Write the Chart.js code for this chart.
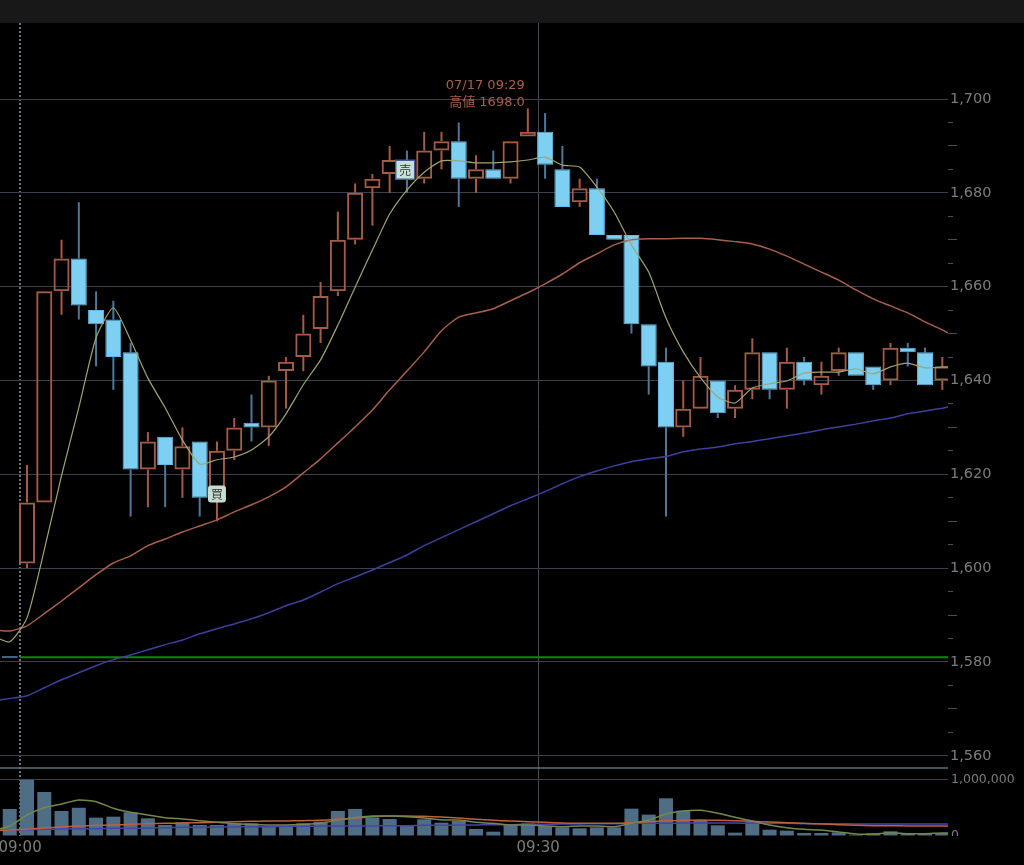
<!DOCTYPE html>
<html>
<head>
<meta charset="utf-8">
<title>07/17 1分足</title>
<script src="https://cdn.jsdelivr.net/npm/chart.js"></script>
<style>
    html, body { margin: 0; padding: 0; background: #000; overflow: hidden; }
    #topBar { height: 23px; background: #181818; }
    #chartBox { position: relative; width: 1024px; height: 842px; }
</style>
</head>
<body>
<div id="topBar"></div>
<div id="chartBox"><canvas id="priceChart"></canvas></div>
<script>
// minutes after 09:00, -1 is the pre-open print
const candleMinutes = [-1, 0, 1, 2, 3, 4, 5, 6, 7, 8, 9, 10, 11, 12, 13, 14, 15, 16, 17, 18, 19, 20, 21, 22, 23, 24, 25, 26, 27, 28, 29, 30, 31, 32, 33, 34, 35, 36, 37, 38, 39, 40, 41, 42, 43, 44, 45, 46, 47, 48, 49, 50, 51, 52, 53];
const opens = [1581.2, 1601, 1614, 1659, 1666, 1655, 1653, 1646, 1621, 1628, 1621, 1627, 1615, 1625, 1631, 1630, 1642, 1645, 1651, 1659, 1670, 1681, 1684, 1687, 1683, 1689, 1691, 1683, 1685, 1683, 1692, 1693, 1685, 1678, 1681, 1671, 1671, 1652, 1644, 1630, 1634, 1640, 1634, 1638, 1646, 1638, 1644, 1639, 1642, 1646, 1643, 1640, 1647, 1646, 1640];
const closes = [1580.9, 1614, 1659, 1666, 1656, 1652, 1645, 1621, 1627, 1622, 1626, 1615, 1625, 1630, 1630, 1640, 1644, 1650, 1658, 1670, 1680, 1683, 1687, 1683, 1689, 1691, 1683, 1685, 1683, 1691, 1693, 1686, 1677, 1681, 1671, 1670, 1652, 1643, 1630, 1634, 1641, 1633, 1638, 1646, 1638, 1644, 1640, 1641, 1646, 1641, 1639, 1647, 1646, 1639, 1643];
const highs = [1581.2, 1622, 1659, 1670, 1678, 1659, 1657, 1648, 1629, 1628, 1630, 1627, 1627, 1632, 1637, 1641, 1645, 1654, 1661, 1676, 1682, 1684, 1690, 1689, 1693, 1693, 1695, 1688, 1689, 1691, 1698, 1697, 1690, 1683, 1683, 1671, 1671, 1652, 1647, 1640, 1645, 1640, 1639, 1649, 1646, 1647, 1645, 1644, 1647, 1646, 1643, 1648, 1648, 1647, 1645];
const lows = [1580.9, 1600, 1614, 1654, 1653, 1643, 1638, 1611, 1613, 1613, 1615, 1611, 1610, 1623, 1627, 1626, 1634, 1642, 1648, 1658, 1669, 1673, 1680, 1680, 1682, 1685, 1677, 1680, 1683, 1682, 1692, 1683, 1677, 1677, 1671, 1670, 1650, 1637, 1611, 1628, 1634, 1632, 1632, 1636, 1636, 1634, 1639, 1637, 1641, 1641, 1638, 1639, 1643, 1639, 1638];
const volumes = [478000, 997000, 779000, 442000, 500000, 325000, 342000, 419000, 313000, 195000, 242000, 195000, 195000, 224000, 224000, 177000, 177000, 224000, 254000, 442000, 478000, 325000, 300000, 183000, 295000, 236000, 265000, 124000, 77000, 195000, 224000, 177000, 153000, 136000, 153000, 153000, 484000, 378000, 667000, 448000, 283000, 189000, 59000, 248000, 112000, 94000, 53000, 53000, 65000, 24000, 47000, 83000, 35000, 41000, 53000];

// moving averages run a little past both edges of the plot
const lineMinutes = [-2, -1, 0, 1, 2, 3, 4, 5, 6, 7, 8, 9, 10, 11, 12, 13, 14, 15, 16, 17, 18, 19, 20, 21, 22, 23, 24, 25, 26, 27, 28, 29, 30, 31, 32, 33, 34, 35, 36, 37, 38, 39, 40, 41, 42, 43, 44, 45, 46, 47, 48, 49, 50, 51, 52, 53, 54];
const ma5 = [1585.6, 1584.3, 1589.4, 1603.9, 1619.7, 1634.2, 1649.1, 1655.5, 1648.6, 1640.5, 1634.2, 1627.3, 1622.2, 1623.1, 1623.7, 1625.2, 1628, 1632.9, 1639.1, 1644.4, 1651.8, 1659.9, 1667.8, 1675.5, 1680.6, 1684.4, 1686.8, 1686.8, 1686.4, 1686.4, 1686.6, 1687, 1687.6, 1685.9, 1685.5, 1681.2, 1675.9, 1668.9, 1663.1, 1653.3, 1646.1, 1640.6, 1636.5, 1635.2, 1638.4, 1639.3, 1639.9, 1641.6, 1641.8, 1641.8, 1642.5, 1641.4, 1642.9, 1643.7, 1642.7, 1642.9, 1642.9];
const ma25 = [1586.9, 1586.6, 1587.7, 1590.3, 1593.0, 1595.8, 1598.6, 1601.1, 1602.6, 1604.8, 1606.2, 1607.7, 1609.0, 1610.3, 1612.0, 1613.5, 1615.2, 1617.3, 1620.3, 1623.3, 1626.7, 1630.1, 1633.7, 1638, 1642, 1646.1, 1650.6, 1653.5, 1654.4, 1655.3, 1657.0, 1658.7, 1660.6, 1662.7, 1665.1, 1667.0, 1668.9, 1670.0, 1670.2, 1670.2, 1670.3, 1670.3, 1670.0, 1669.6, 1669.1, 1668.0, 1666.5, 1664.8, 1663.1, 1661.4, 1659.3, 1657.4, 1655.9, 1654.4, 1652.5, 1650.8, 1648.9];
const ma75 = [1571.7, 1572.2, 1572.8, 1574.5, 1576.2, 1577.7, 1579.2, 1580.5, 1581.5, 1582.6, 1583.7, 1584.7, 1586.0, 1587.1, 1588.1, 1589.2, 1590.5, 1592.0, 1593.2, 1594.9, 1596.7, 1598.1, 1599.6, 1601.2, 1602.8, 1604.8, 1606.5, 1608.2, 1609.9, 1611.6, 1613.3, 1614.8, 1616.3, 1618.0, 1619.5, 1620.7, 1621.8, 1622.7, 1623.3, 1623.8, 1624.8, 1625.4, 1625.8, 1626.5, 1627.0, 1627.6, 1628.2, 1628.8, 1629.5, 1630.1, 1630.7, 1631.4, 1632.0, 1632.9, 1633.5, 1634.1, 1634.8];
const volMa5 = [94000, 177000, 372000, 501000, 566000, 637000, 608000, 490000, 419000, 372000, 324000, 301000, 271000, 242000, 218000, 206000, 195000, 195000, 206000, 224000, 283000, 324000, 354000, 354000, 342000, 319000, 283000, 283000, 242000, 224000, 195000, 195000, 177000, 165000, 177000, 177000, 165000, 224000, 283000, 389000, 442000, 454000, 401000, 330000, 265000, 195000, 147000, 118000, 106000, 71000, 35000, 35000, 59000, 41000, 41000, 53000, 53000];
const volMa25 = [94000, 106000, 118000, 142000, 159000, 177000, 189000, 195000, 206000, 218000, 224000, 230000, 236000, 242000, 254000, 260000, 265000, 265000, 271000, 277000, 295000, 319000, 342000, 354000, 354000, 348000, 336000, 319000, 295000, 277000, 265000, 254000, 242000, 230000, 224000, 224000, 224000, 236000, 254000, 271000, 277000, 283000, 277000, 271000, 260000, 248000, 236000, 224000, 212000, 201000, 189000, 183000, 183000, 177000, 177000, 177000, 177000];
const volMa75 = [100000, 106000, 112000, 118000, 124000, 130000, 130000, 136000, 136000, 142000, 147000, 153000, 153000, 159000, 159000, 165000, 165000, 171000, 171000, 177000, 177000, 177000, 177000, 183000, 183000, 189000, 189000, 195000, 195000, 201000, 201000, 206000, 206000, 212000, 212000, 218000, 218000, 224000, 224000, 224000, 230000, 230000, 230000, 230000, 224000, 224000, 224000, 218000, 218000, 218000, 212000, 212000, 212000, 212000, 212000, 212000, 212000];

const prevClose = 1581;
const prevCloseMinutes = [-0.4, 54];
const timeTicks = [-0.4, 29.6];
const timeLabels = ['09:00', '09:30'];
const volumeTicks = [0, 1000000];
const signalMinutes = [11, 21.9];
const signalPrices = [1615.8, 1684.9];
const signalTexts = ['買', '売'];
const peakMinute = 29;
const peakPrice = 1698;
const peakLines = ['07/17 09:29', '高値 1698.0'];

const GRID = '#3a404e';
const UP = '#a55c47';
const DOWN_FILL = '#7dd0f2';
const DOWN_EDGE = '#6cb6e2';
const DOWN_WICK = '#4f7898';
const LABEL = '#7c7c7c';

function isUp(i) {
    return closes[i] >= opens[i];
}

function bodyPoints(up) {
    const points = [];
    candleMinutes.forEach(function(minute, i) {
        if (isUp(i) === up) {
            points.push({ x: minute, y: [opens[i], closes[i]] });
        }
    });
    return points;
}

// wicks stop at the body so the hollow candles stay hollow
function wickPoints(up) {
    const points = [];
    candleMinutes.forEach(function(minute, i) {
        if (isUp(i) === up) {
            points.push({ x: minute, y: [Math.max(opens[i], closes[i]), highs[i]] });
            points.push({ x: minute, y: [lows[i], Math.min(opens[i], closes[i])] });
        }
    });
    return points;
}

function linePoints(minutes, values) {
    return minutes.map(function(minute, i) {
        return { x: minute, y: values[i] };
    });
}

function lineDataset(values, color, width, axis, order) {
    return {
        type: 'line',
        data: linePoints(lineMinutes, values),
        yAxisID: axis,
        borderColor: color,
        borderWidth: width,
        pointRadius: 0,
        tension: 0.2,
        order: order
    };
}

function wickDataset(up, color) {
    return {
        type: 'bar',
        data: wickPoints(up),
        yAxisID: 'y',
        backgroundColor: color,
        barThickness: 2,
        grouped: false,
        inflateAmount: 0,
        order: 6
    };
}

function bodyDataset(up, fill, edge) {
    return {
        type: 'bar',
        data: bodyPoints(up),
        yAxisID: 'y',
        backgroundColor: fill,
        borderColor: edge,
        borderWidth: up ? 2 : 1,
        borderSkipped: false,
        barThickness: 16,
        grouped: false,
        inflateAmount: 0,
        order: 5
    };
}

// no room for half labels around the plot, it has to touch the canvas edges
function fixSize(axis, size) {
    if (axis.isHorizontal()) {
        axis.height = size;
    } else {
        axis.width = size;
    }
    axis.paddingLeft = 0;
    axis.paddingRight = 0;
    axis.paddingTop = 0;
    axis.paddingBottom = 0;
}

// signal badges, the high label, the pane divider and the cut-off "0"
const overlayPlugin = {
    id: 'overlay',
    afterDraw: function(chart) {
        const ctx = chart.ctx;
        const xScale = chart.scales.x;
        const yScale = chart.scales.y;
        const volScale = chart.scales.yVol;
        ctx.save();

        ctx.strokeStyle = '#5a7078';
        ctx.lineWidth = 1.5;
        ctx.beginPath();
        ctx.moveTo(chart.chartArea.left, volScale.top);
        ctx.lineTo(chart.chartArea.right, volScale.top);
        ctx.stroke();

        ctx.fillStyle = '#000';
        ctx.fillRect(chart.chartArea.right, chart.chartArea.bottom, 76, 30);

        signalTexts.forEach(function(text, i) {
            const x = xScale.getPixelForValue(signalMinutes[i]);
            const y = yScale.getPixelForValue(signalPrices[i]);
            ctx.beginPath();
            if (text === '売') {
                ctx.rect(x - 9.5, y - 9.5, 19, 19);
                ctx.fillStyle = '#c6e2d6';
                ctx.fill();
                ctx.strokeStyle = '#4a5a9a';
                ctx.lineWidth = 1.5;
                ctx.stroke();
            } else {
                ctx.roundRect(x - 9, y - 8.5, 18, 17, 3);
                ctx.fillStyle = '#c6dcd0';
                ctx.fill();
            }
            ctx.fillStyle = '#333';
            ctx.font = '12px "Noto Sans CJK JP"';
            ctx.textAlign = 'center';
            ctx.textBaseline = 'middle';
            ctx.fillText(text, x, y + 0.5);
        });

        const peakX = xScale.getPixelForValue(peakMinute);
        const peakY = yScale.getPixelForValue(peakPrice);
        ctx.fillStyle = '#a8604a';
        ctx.font = '13px "DejaVu Sans", "Noto Sans CJK JP"';
        ctx.textAlign = 'right';
        ctx.textBaseline = 'middle';
        ctx.fillText(peakLines[0], peakX - 3, peakY - 23);
        ctx.fillText(peakLines[1], peakX - 3, peakY - 6);
        ctx.restore();
    }
};

new Chart(document.getElementById('priceChart'), {
    type: 'bar',
    data: {
        datasets: [
            lineDataset(ma75, '#3f3f9c', 1.5, 'y', 3),
            lineDataset(ma25, '#a8604a', 1.5, 'y', 2),
            lineDataset(ma5, '#a0a470', 1.2, 'y', 1),
            {
                type: 'line',
                data: linePoints(prevCloseMinutes, [prevClose, prevClose]),
                yAxisID: 'y',
                borderColor: '#008c00',
                borderWidth: 2,
                pointRadius: 0,
                order: 4
            },
            wickDataset(true, UP),
            wickDataset(false, DOWN_WICK),
            bodyDataset(true, 'rgba(0,0,0,0)', UP),
            bodyDataset(false, DOWN_FILL, DOWN_EDGE),
            {
                type: 'bar',
                data: linePoints(candleMinutes, volumes),
                yAxisID: 'yVol',
                backgroundColor: '#4f6d85',
                barThickness: 14,
                grouped: false,
                inflateAmount: 0,
                order: 5
            },
            lineDataset(volMa75, '#4444aa', 1.5, 'yVol', 3),
            lineDataset(volMa25, '#c0603c', 1.5, 'yVol', 2),
            lineDataset(volMa5, '#74884e', 1.5, 'yVol', 1)
        ]
    },
    options: {
        responsive: true,
        maintainAspectRatio: false,
        animation: false,
        layout: { padding: 0 },
        plugins: {
            legend: { display: false },
            tooltip: { enabled: false }
        },
        scales: {
            x: {
                type: 'linear',
                offset: false,
                min: -1.563,
                max: 53.33,
                afterBuildTicks: function(axis) {
                    axis.ticks = timeTicks.map(function(value) {
                        return { value: value };
                    });
                },
                afterFit: function(axis) {
                    fixSize(axis, 29);
                },
                grid: {
                    offset: false,
                    drawTicks: false,
                    color: function(context) {
                        return context.index === 0 ? '#6b7580' : '#444a58';
                    },
                    lineWidth: function(context) {
                        return context.index === 0 ? 2 : 1;
                    }
                },
                border: {
                    display: false,
                    dash: function(context) {
                        return context.index === 0 ? [2, 2] : [];
                    }
                },
                ticks: {
                    autoSkip: false,
                    maxRotation: 0,
                    padding: 3,
                    color: LABEL,
                    font: { family: '"DejaVu Sans"', size: 15 },
                    callback: function(value, index) {
                        return timeLabels[index];
                    }
                }
            },
            y: {
                position: 'right',
                stack: 'panes',
                stackWeight: 745,
                min: 1557.4,
                max: 1716.2,
                afterFit: function(axis) {
                    fixSize(axis, 76);
                },
                grid: {
                    tickLength: 9,
                    color: function(context) {
                        return context.tick.value % 20 === 0 ? GRID : 'rgba(0,0,0,0)';
                    },
                    tickColor: function(context) {
                        const value = context.tick.value;
                        return value % 20 === 0 || value > 1700 ? 'rgba(0,0,0,0)' : '#4a4f5c';
                    },
                    tickBorderDash: function(context) {
                        return context.tick.value % 10 === 0 ? [] : [5, 10];
                    }
                },
                border: { display: false },
                ticks: {
                    stepSize: 5,
                    includeBounds: false,
                    autoSkip: false,
                    padding: -7,
                    color: LABEL,
                    font: { family: '"DejaVu Sans"', size: 14.5 },
                    callback: function(value) {
                        return value % 20 === 0 && value <= 1700 ? value.toLocaleString('en-US') : '';
                    }
                }
            },
            yVol: {
                position: 'right',
                stack: 'panes',
                stackWeight: 68,
                min: 0,
                max: 1203500,
                afterBuildTicks: function(axis) {
                    axis.ticks = volumeTicks.map(function(value) {
                        return { value: value };
                    });
                },
                afterFit: function(axis) {
                    fixSize(axis, 76);
                },
                grid: {
                    drawTicks: false,
                    color: function(context) {
                        return context.tick.value === 0 ? 'rgba(0,0,0,0)' : GRID;
                    }
                },
                border: { display: false },
                ticks: {
                    autoSkip: false,
                    padding: 3,
                    color: LABEL,
                    font: { family: '"DejaVu Sans"', size: 12.5 },
                    callback: function(value) {
                        return value.toLocaleString('en-US');
                    }
                }
            }
        }
    },
    plugins: [overlayPlugin]
});
</script>
</body>
</html>
